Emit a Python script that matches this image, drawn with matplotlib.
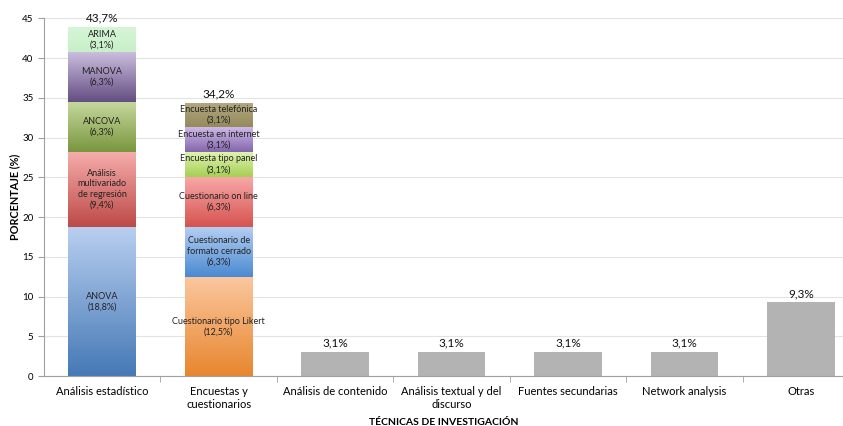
import numpy as np
import matplotlib
matplotlib.use("Agg")
import matplotlib.pyplot as plt
from matplotlib.colors import LinearSegmentedColormap

plt.rcParams['font.family'] = ['Lato', 'DejaVu Sans']

# categories and totals
categories = ["Análisis estadístico", "Encuestas y\ncuestionarios", "Análisis de contenido",
              "Análisis textual y del\ndiscurso", "Fuentes secundarias", "Network analysis", "Otras"]
total_labels = ["43,7%", "34,2%", "3,1%", "3,1%", "3,1%", "3,1%", "9,3%"]
simple_values = [0, 0, 3.1, 3.1, 3.1, 3.1, 9.3]

# stacked segments of "Análisis estadístico"
stat_names = ["ANOVA\n(18,8%)", "Análisis\nmultivariado\nde regresión\n(9,4%)", "ANCOVA\n(6,3%)",
              "MANOVA\n(6,3%)", "ARIMA\n(3,1%)"]
stat_values = [18.8, 9.4, 6.3, 6.3, 3.1]
stat_colors = [("#b9cff0", "#4579b6"), ("#f5acab", "#bd4a47"), ("#c6d99e", "#7a963e"),
               ("#cdbfe0", "#644e82"), ("#d6f5d6", "#c8efc8")]

# stacked segments of "Encuestas y cuestionarios"
enc_names = ["Cuestionario tipo Likert\n(12,5%)", "Cuestionario de\nformato cerrado\n(6,3%)",
             "Cuestionario on line\n(6,3%)", "Encuesta tipo panel\n(3,1%)",
             "Encuesta en internet\n(3,1%)", "Encuesta telefónica\n(3,1%)"]
enc_values = [12.5, 6.3, 6.3, 3.1, 3.1, 3.1]
enc_colors = [("#fbc79e", "#e8862f"), ("#b5cff3", "#4b8ad2"), ("#f8a9a8", "#d65350"),
              ("#def3b0", "#a6cf53"), ("#cdb9e8", "#8466ac"), ("#b3a880", "#958a5c")]

fig = plt.figure(figsize=(8.43, 4.26), dpi=100)
ax = fig.add_axes([0.052, 0.117, 0.948, 0.840])

x = np.arange(len(categories))
width = 0.58
xlim = (-0.5, 6.36)
ylim = (0, 45)


def gradient_bar(xpos, bottom, height, top_c, bot_c, label):
    bar = ax.bar(xpos, height, width, bottom=bottom, color="none", edgecolor="none", zorder=2)[0]
    cmap = LinearSegmentedColormap.from_list("g", [bot_c, top_c])
    grad = np.linspace(0, 1, 100).reshape(-1, 1)
    im = ax.imshow(grad, cmap=cmap, aspect="auto", origin="lower",
                   extent=[bar.get_x(), bar.get_x() + bar.get_width(), bottom, bottom + height],
                   zorder=2)
    im.set_clip_path(bar)
    ax.text(xpos, bottom + height / 2, label, ha="center", va="center",
            fontsize=6.5, color="#222222", zorder=3, linespacing=1.25)


bottom = 0
for name, val, (tc, bc) in zip(stat_names, stat_values, stat_colors):
    gradient_bar(x[0], bottom, val, tc, bc, name)
    bottom += val
stat_top = bottom

bottom = 0
for name, val, (tc, bc) in zip(enc_names, enc_values, enc_colors):
    gradient_bar(x[1], bottom, val, tc, bc, name)
    bottom += val
enc_top = bottom

ax.bar(x[2:], simple_values[2:], width, color="#b3b3b3", zorder=2)

tops = [stat_top, enc_top] + simple_values[2:]
for xi, t, lab in zip(x, tops, total_labels):
    ax.text(xi, t + 0.4, lab, ha="center", va="bottom", fontsize=8.5, color="#111111")

ax.set_xlim(*xlim)
ax.set_ylim(*ylim)
ax.set_yticks(np.arange(0, 46, 5))
ax.set_xticks(x)
ax.set_xticklabels(categories, fontsize=8, linespacing=1.2)
ax.set_xticks(np.arange(0.5, 6.5, 1), minor=True)
ax.tick_params(axis="x", which="major", length=0, pad=7)
ax.tick_params(axis="x", which="minor", length=4, color="#a0a0a0", direction="out")
ax.tick_params(axis="y", length=4, color="#a0a0a0", labelsize=7, direction="out")

ax.grid(axis="y", color="#e3e3e3", linewidth=0.8, zorder=0)
ax.set_axisbelow(True)
for s in ["top", "right"]:
    ax.spines[s].set_visible(False)
for s in ["left", "bottom"]:
    ax.spines[s].set_color("#a0a0a0")

ax.set_ylabel("PORCENTAJE (%)", fontsize=7.8, fontweight="bold")
ax.yaxis.set_label_coords(-0.029, 0.5)
ax.set_xlabel("TÉCNICAS DE INVESTIGACIÓN", fontsize=7.5, fontweight="bold", labelpad=6)

fig.savefig("out.png", dpi=100)
